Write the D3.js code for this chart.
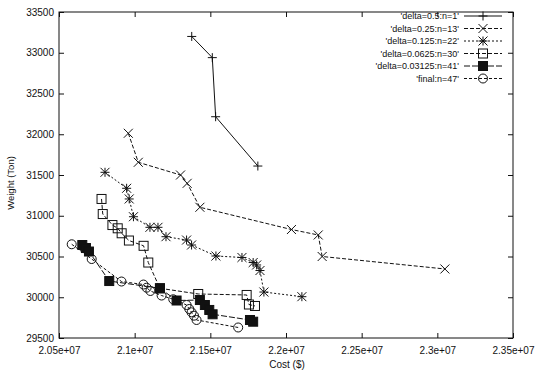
<!DOCTYPE html>
<html>
<head>
<meta charset="utf-8">
<script src="https://cdn.jsdelivr.net/npm/d3@7"></script>
<style>
  body { margin: 0; background: #fff; }
  text { font-family: "Liberation Sans", Arial, sans-serif; fill: #111; }
</style>
</head>
<body>
<script>
// series values: cost ($) and weight (ton)
const names = ["'delta=0.5:n=1'", "'delta=0.25:n=13'", "'delta=0.125:n=22'", "'delta=0.0625:n=30'", "'delta=0.03125:n=41'", "'final:n=47'"]

const cost1 = [2.1377e7, 2.1513e7, 2.1535e7, 2.1814e7]
const weight1 = [33200, 32940, 32215, 31610]

const cost2 = [2.0958e7, 2.1024e7, 2.1303e7, 2.1347e7, 2.1431e7, 2.2036e7, 2.2213e7, 2.2239e7, 2.305e7]
const weight2 = [32012, 31656, 31500, 31398, 31104, 30831, 30764, 30500, 30347]

const cost3 = [2.0804e7, 2.0947e7, 2.0964e7, 2.0992e7, 2.1101e7, 2.1154e7, 2.1207e7, 2.1343e7, 2.1376e7, 2.1537e7, 2.1709e7, 2.1783e7, 2.1806e7, 2.1828e7, 2.1854e7, 2.2105e7]
const weight3 = [31533, 31337, 31206, 30988, 30858, 30858, 30743, 30702, 30641, 30506, 30488, 30426, 30396, 30328, 30064, 30007]

const cost4 = [2.0781e7, 2.0789e7, 2.0853e7, 2.0888e7, 2.0914e7, 2.0962e7, 2.1059e7, 2.109e7, 2.1167e7, 2.142e7, 2.174e7, 2.1755e7, 2.1795e7]
const weight4 = [31206, 31021, 30886, 30846, 30785, 30696, 30631, 30426, 30110, 30040, 30028, 29911, 29893]

const cost5 = [2.0654e7, 2.0678e7, 2.0698e7, 2.0832e7, 2.1167e7, 2.1277e7, 2.1431e7, 2.1464e7, 2.1493e7, 2.1515e7, 2.1762e7, 2.1783e7]
const weight5 = [30641, 30604, 30561, 30199, 30110, 29960, 29966, 29905, 29844, 29791, 29721, 29700]

const cost6 = [2.0584e7, 2.0716e7, 2.0913e7, 2.1058e7, 2.1079e7, 2.1104e7, 2.1178e7, 2.1255e7, 2.1343e7, 2.1361e7, 2.1376e7, 2.1392e7, 2.1409e7, 2.1684e7]
const weight6 = [30650, 30469, 30193, 30156, 30117, 30077, 30021, 29975, 29905, 29856, 29815, 29774, 29721, 29629]

const xTicks = [2.05e7, 2.1e7, 2.15e7, 2.2e7, 2.25e7, 2.3e7, 2.35e7]
const xTickLabels = ['2.05e+07', '2.1e+07', '2.15e+07', '2.2e+07', '2.25e+07', '2.3e+07', '2.35e+07']
const yTicks = [29500, 30000, 30500, 31000, 31500, 32000, 32500, 33000, 33500]

const seriesCost = [cost1, cost2, cost3, cost4, cost5, cost6]
const seriesWeight = [weight1, weight2, weight3, weight4, weight5, weight6]
const markers = ['plus', 'cross', 'star', 'square', 'filled', 'circle']
const dashes = [null, '4,2', '2,2', '4,2', '6,2', '3,2']

const width = 536
const height = 372
const mLeft = 59, mRight = 513, mTop = 12, mBottom = 338

const svg = d3.select('body').append('svg').attr('width', width).attr('height', height)

const x = d3.scaleLinear().domain([2.05e7, 2.35e7]).range([mLeft, mRight])
const y = d3.scaleLinear().domain([29500, 33500]).range([mBottom, mTop])

// 坐标轴 (ticks point inward, mirrored on top/right)
const xAxis = svg.append('g').attr('transform', `translate(0,${mBottom})`)
  .call(d3.axisBottom(x).tickValues(xTicks).tickFormat((d, i) => xTickLabels[i]).tickSizeInner(-5).tickSizeOuter(0).tickPadding(9))
const yAxis = svg.append('g').attr('transform', `translate(${mLeft},0)`)
  .call(d3.axisLeft(y).tickValues(yTicks).tickFormat(d3.format('d')).tickSizeInner(-5).tickSizeOuter(0).tickPadding(5))
svg.append('g').attr('transform', `translate(0,${mTop})`)
  .call(d3.axisTop(x).tickValues(xTicks).tickFormat('').tickSizeInner(-5).tickSizeOuter(0))
svg.append('g').attr('transform', `translate(${mRight},0)`)
  .call(d3.axisRight(y).tickValues(yTicks).tickFormat('').tickSizeInner(-5).tickSizeOuter(0))
svg.selectAll('.domain').remove()
svg.selectAll('.tick line').attr('stroke', '#111')
xAxis.selectAll('text').attr('font-size', 10)
yAxis.selectAll('text').attr('font-size', 10)

svg.append('rect')
  .attr('x', mLeft).attr('y', mTop).attr('width', mRight - mLeft).attr('height', mBottom - mTop)
  .attr('fill', 'none').attr('stroke', '#111').attr('stroke-width', 1)

svg.append('text').attr('x', 287).attr('y', 368).attr('text-anchor', 'middle')
  .attr('font-size', 10).text('Cost ($)')
svg.append('text').attr('transform', 'translate(14,183) rotate(-90)').attr('text-anchor', 'middle')
  .attr('font-size', 9.5).text('Weight (Ton)')

function drawMarker(g, type, cx, cy) {
  const s = 4.5
  if (type === 'plus') {
    g.append('path').attr('d', `M${cx - s},${cy}H${cx + s}M${cx},${cy - s}V${cy + s}`).attr('stroke', '#111').attr('fill', 'none')
  } else if (type === 'cross') {
    g.append('path').attr('d', `M${cx - s},${cy - s}L${cx + s},${cy + s}M${cx - s},${cy + s}L${cx + s},${cy - s}`).attr('stroke', '#111').attr('fill', 'none')
  } else if (type === 'star') {
    g.append('path').attr('d', `M${cx - s},${cy}H${cx + s}M${cx},${cy - s}V${cy + s}M${cx - s},${cy - s}L${cx + s},${cy + s}M${cx - s},${cy + s}L${cx + s},${cy - s}`)
      .attr('stroke', '#111').attr('fill', 'none')
  } else if (type === 'square') {
    g.append('rect').attr('x', cx - s).attr('y', cy - s).attr('width', 2 * s).attr('height', 2 * s).attr('stroke', '#111').attr('fill', 'none')
  } else if (type === 'filled') {
    g.append('rect').attr('x', cx - s).attr('y', cy - s).attr('width', 2 * s).attr('height', 2 * s).attr('stroke', '#111').attr('fill', '#111')
  } else {
    g.append('circle').attr('cx', cx).attr('cy', cy).attr('r', s).attr('stroke', '#111').attr('fill', 'none')
  }
}

const line = d3.line().x(d => x(d[0])).y(d => y(d[1]))

seriesCost.forEach((cs, k) => {
  const pts = cs.map((c, i) => [c, seriesWeight[k][i]])
  const g = svg.append('g')
  g.append('path').datum(pts).attr('d', line)
    .attr('fill', 'none').attr('stroke', '#111').attr('stroke-width', 1)
    .attr('stroke-dasharray', dashes[k])
  pts.forEach(p => drawMarker(g, markers[k], x(p[0]), y(p[1])))

  // legend
  const ly = 16 + k * 12.5
  svg.append('text').attr('x', 459).attr('y', ly).attr('dy', '0.35em').attr('text-anchor', 'end')
    .attr('font-size', 9).text(names[k])
  svg.append('line').attr('x1', 464).attr('x2', 502).attr('y1', ly).attr('y2', ly)
    .attr('stroke', '#111').attr('stroke-dasharray', dashes[k])
  drawMarker(svg, markers[k], 483, ly)
})
</script>
</body>
</html>
